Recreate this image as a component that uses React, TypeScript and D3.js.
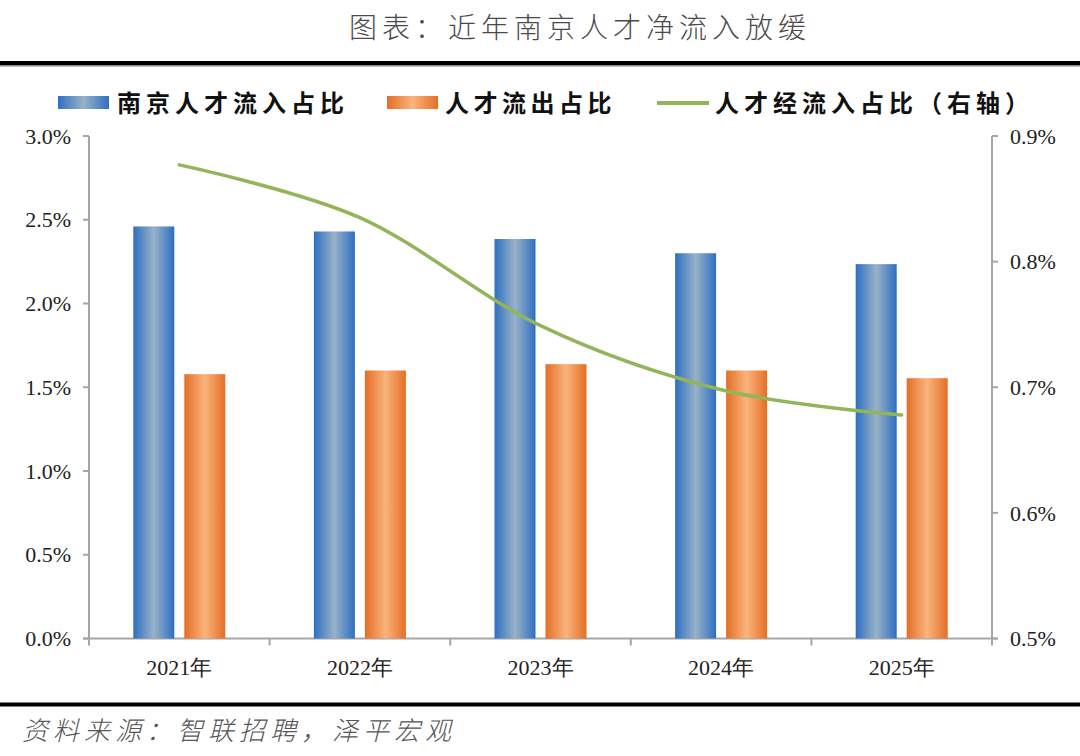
import React from "react";
import * as d3 from "d3";

const categories = ["2021年", "2022年", "2023年", "2024年", "2025年"];
const inflow = [2.46, 2.43, 2.385, 2.30, 2.235];
const outflow = [1.578, 1.60, 1.638, 1.60, 1.554];
const netInflow = [0.877, 0.835, 0.749, 0.698, 0.678];
const leftTicks = [0, 0.5, 1.0, 1.5, 2.0, 2.5, 3.0];
const rightTicks = [0.5, 0.6, 0.7, 0.8, 0.9];

const W = 1080;
const H = 756;
const plotL = 89;
const plotR = 992;
const plotT = 136;
const plotB = 638.5;

export default function App() {
  const x = d3.scaleBand<string>().domain(categories).range([plotL, plotR]).padding(0);
  const yL = d3.scaleLinear().domain([0, 3]).range([plotB, plotT]);
  const yR = d3.scaleLinear().domain([0.5, 0.9]).range([plotB, plotT]);
  const barW = 41;
  const gap = 10;
  const line = d3
    .line<number>()
    .x((_, i) => (x(categories[i]) as number) + x.bandwidth() / 2)
    .y((d) => yR(d))
    .curve(d3.curveCatmullRom.alpha(0));

  const axisColor = "#a6a6a6";
  const tickFont = "'Liberation Serif', 'Times New Roman', serif";
  const cjk = "'Noto Sans CJK SC', sans-serif";

  return (
    <svg width={W} height={H} style={{ position: "absolute", left: 0, top: 0, background: "#fff" }}>
      <defs>
        <linearGradient id="gBlue" x1="0" x2="1" y1="0" y2="0">
          <stop offset="0" stopColor="#2e6fc2" />
          <stop offset="0.5" stopColor="#98b2c8" />
          <stop offset="1" stopColor="#2e6fc2" />
        </linearGradient>
        <linearGradient id="gOrange" x1="0" x2="1" y1="0" y2="0">
          <stop offset="0" stopColor="#e56e26" />
          <stop offset="0.5" stopColor="#f9b47c" />
          <stop offset="1" stopColor="#e56e26" />
        </linearGradient>
      </defs>
      <rect x={0} y={0} width={W} height={H} fill="#fff" />

      {/* title */}
      <text
        x={580}
        y={38}
        textAnchor="middle"
        fontFamily={cjk}
        fontWeight={300}
        fontSize={28}
        letterSpacing={5}
        fill="#4a4a4a"
      >
        图表：近年南京人才净流入放缓
      </text>
      <rect x={0} y={61} width={W} height={4} fill="#000" />
      <rect x={0} y={65} width={W} height={1.5} fill="#888" />

      {/* legend */}
      <rect x={58} y={96} width={51} height={13} fill="url(#gBlue)" />
      <text x={117} y={112} fontFamily={cjk} fontWeight={700} fontSize={24} letterSpacing={5} fill="#111">
        南京人才流入占比
      </text>
      <rect x={387} y={96} width={51} height={13} fill="url(#gOrange)" />
      <text x={445} y={112} fontFamily={cjk} fontWeight={700} fontSize={24} letterSpacing={4.5} fill="#111">
        人才流出占比
      </text>
      <line x1={657} x2={709} y1={103} y2={103} stroke="#92b55a" strokeWidth={4} />
      <text x={715} y={112} fontFamily={cjk} fontWeight={700} fontSize={24} letterSpacing={5} fill="#111">
        人才经流入占比（右轴）
      </text>

      {/* axes */}
      <line x1={plotL} x2={plotL} y1={plotT} y2={plotB} stroke={axisColor} strokeWidth={2} />
      <line x1={plotR} x2={plotR} y1={plotT} y2={plotB} stroke={axisColor} strokeWidth={2} />
      <line x1={plotL - 6} x2={plotR + 6} y1={plotB} y2={plotB} stroke={axisColor} strokeWidth={2} />
      {leftTicks.map((t) => (
        <g key={"l" + t}>
          <line x1={plotL - 6} x2={plotL} y1={yL(t)} y2={yL(t)} stroke={axisColor} strokeWidth={2} />
          <text
            x={71}
            y={yL(t)}
            dy="0.35em"
            textAnchor="end"
            fontFamily={tickFont}
            fontSize={22}
            fill="#222"
          >
            {t.toFixed(1)}%
          </text>
        </g>
      ))}
      {rightTicks.map((t) => (
        <g key={"r" + t}>
          <line x1={plotR} x2={plotR + 6} y1={yR(t)} y2={yR(t)} stroke={axisColor} strokeWidth={2} />
          <text x={1010} y={yR(t)} dy="0.35em" textAnchor="start" fontFamily={tickFont} fontSize={22} fill="#222">
            {t.toFixed(1)}%
          </text>
        </g>
      ))}
      {categories.map((c, i) => (
        <line
          key={"xt" + i}
          x1={x(c) as number}
          x2={x(c) as number}
          y1={plotB}
          y2={plotB + 7}
          stroke={axisColor}
          strokeWidth={2}
        />
      ))}
      <line x1={plotR} x2={plotR} y1={plotB} y2={plotB + 7} stroke={axisColor} strokeWidth={2} />
      {categories.map((c) => (
        <text
          key={"xl" + c}
          x={(x(c) as number) + x.bandwidth() / 2}
          y={675}
          textAnchor="middle"
          fontFamily={tickFont}
          fontSize={22}
          fill="#222"
        >
          {c}
        </text>
      ))}

      {/* bars */}
      {categories.map((c, i) => {
        const cx = (x(c) as number) + x.bandwidth() / 2;
        return (
          <g key={"b" + c}>
            <rect
              x={cx - gap / 2 - barW}
              y={yL(inflow[i])}
              width={barW}
              height={plotB - yL(inflow[i])}
              fill="url(#gBlue)"
            />
            <rect
              x={cx + gap / 2}
              y={yL(outflow[i])}
              width={barW}
              height={plotB - yL(outflow[i])}
              fill="url(#gOrange)"
            />
          </g>
        );
      })}

      {/* line */}
      <path d={line(netInflow) || ""} fill="none" stroke="#92b55a" strokeWidth={3.5} strokeLinecap="round" />

      {/* footer */}
      <rect x={0} y={702.5} width={W} height={4} fill="#000" />
      <text
        x={22}
        y={740}
        fontFamily={cjk}
        fontWeight={300}
        fontStyle="italic"
        fontSize={26}
        letterSpacing={5}
        fill="#555"
      >
        资料来源：智联招聘，泽平宏观
      </text>
    </svg>
  );
}
